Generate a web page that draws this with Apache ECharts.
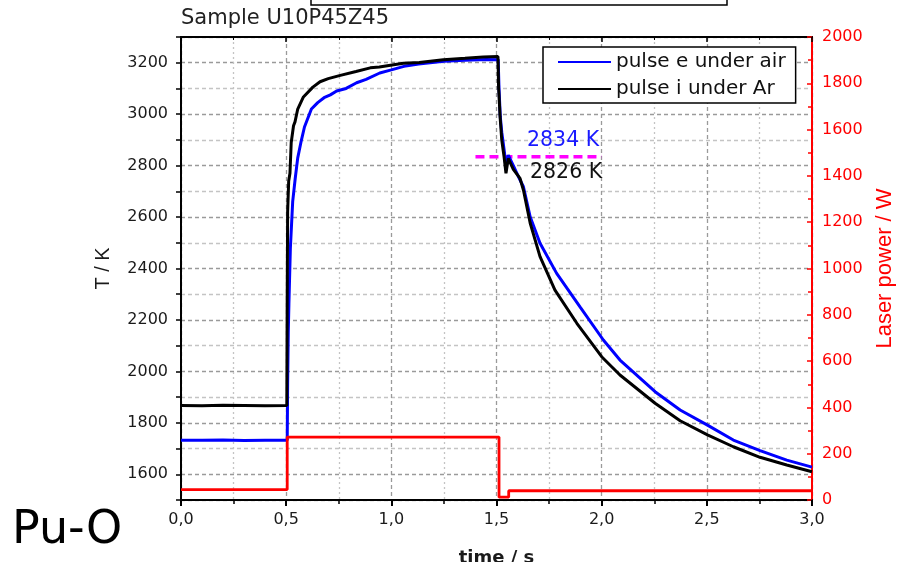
<!DOCTYPE html>
<html><head><meta charset="utf-8">
<script src="https://cdn.jsdelivr.net/npm/echarts@6/dist/echarts.min.js"></script>
<style>html,body{margin:0;padding:0;background:#fff}#c{width:898px;height:562px}</style>
</head><body><div id="c"></div>
<script>
// pulse e under air (blue)
const blueTime = [0, 0.1, 0.2, 0.3, 0.4, 0.505, 0.507, 0.510, 0.513, 0.520, 0.531, 0.543, 0.555, 0.570, 0.587, 0.620, 0.650, 0.680, 0.710, 0.740, 0.785, 0.835, 0.880, 0.945, 1.000, 1.060, 1.130, 1.250, 1.350, 1.450, 1.508, 1.512, 1.518, 1.525, 1.538, 1.545, 1.556, 1.580, 1.612, 1.628, 1.660, 1.707, 1.786, 1.897, 2.008, 2.087, 2.254, 2.373, 2.503, 2.626, 2.753, 2.880, 3.000];
const blueTemp = [1732, 1732, 1733, 1731, 1732, 1732, 1950, 2150, 2260, 2480, 2660, 2750, 2830, 2890, 2950, 3020, 3045, 3064, 3075, 3090, 3100, 3122, 3135, 3160, 3172, 3186, 3195, 3206, 3210, 3213, 3212, 3100, 2990, 2930, 2850, 2790, 2841, 2800, 2744, 2718, 2601, 2498, 2381, 2251, 2122, 2044, 1921, 1850, 1791, 1733, 1692, 1655, 1628];
// pulse i under Ar (black)
const blackTime = [0, 0.1, 0.2, 0.3, 0.4, 0.503, 0.505, 0.507, 0.512, 0.518, 0.524, 0.535, 0.542, 0.555, 0.582, 0.627, 0.661, 0.700, 0.753, 0.832, 0.900, 0.943, 1.057, 1.133, 1.247, 1.350, 1.437, 1.507, 1.510, 1.514, 1.517, 1.525, 1.536, 1.545, 1.556, 1.580, 1.612, 1.628, 1.660, 1.707, 1.778, 1.882, 2.000, 2.087, 2.254, 2.373, 2.503, 2.626, 2.753, 2.880, 3.000];
const blackTemp = [1867, 1866, 1868, 1867, 1866, 1867, 2300, 2620, 2740, 2770, 2890, 2955, 2970, 3020, 3067, 3105, 3126, 3138, 3150, 3166, 3180, 3183, 3198, 3201, 3212, 3217, 3222, 3224, 3100, 3040, 2990, 2899, 2834, 2770, 2828, 2785, 2750, 2705, 2577, 2446, 2316, 2187, 2057, 1986, 1876, 1808, 1753, 1707, 1666, 1636, 1610];
// laser power (red, right axis)
const laserTime = [0, 0.505, 0.505, 1.512, 1.512, 1.558, 1.558, 3.0];
const laserPower = [45, 45, 272, 272, 12, 12, 40, 40];
// 2834 K marker line
const markTime = [1.40, 2.0];
const markTemp = [2834, 2834];
const legendNames = ['pulse e under air', 'pulse i under Ar'];
const annotBlue = '2834 K';
const annotBlack = '2826 K';
const titleText = 'Sample U10P45Z45';
const sideText = 'Pu-O';

const F = 'DejaVu Sans';
const pair = (xs, ys) => xs.map((x, i) => [x, ys[i]]);
const chart = echarts.init(document.getElementById('c'), null, {renderer: 'canvas'});
const option = {
  animation: false,
  backgroundColor: '#fff',
  grid: {left: 181, right: 86, top: 37, bottom: 62, show: true, borderColor: '#000', borderWidth: 2, backgroundColor: 'transparent', containLabel: false, outerBoundsMode: 'none'},
  xAxis: [{
    type: 'value', min: 0, max: 3, interval: 0.5, position: 'bottom',
    axisLine: {show: true, onZero: false, lineStyle: {color: '#000', width: 2}},
    axisTick: {show: true, length: 6, lineStyle: {color: '#000', width: 2}},
    minorTick: {show: true, splitNumber: 2, length: 4, lineStyle: {color: '#000', width: 1.5}},
    axisLabel: {formatter: v => v.toFixed(1).replace('.', ','), color: '#1a1a1a', fontFamily: F, fontSize: 16, margin: 12},
    splitLine: {show: true, lineStyle: {color: '#9a9a9a', type: [4, 3], width: 1.3}},
    minorSplitLine: {show: true, lineStyle: {color: '#c4c4c4', type: [2, 3], width: 1.3}},
    name: 'time / s', nameLocation: 'middle', nameGap: 49,
    nameTextStyle: {fontFamily: F, fontSize: 18, color: '#1a1a1a', fontWeight: 'bold'}
  }, {
    type: 'value', min: 0, max: 3, interval: 0.5, position: 'top',
    axisLine: {show: true, onZero: false, lineStyle: {color: '#000', width: 2}},
    axisTick: {show: true, inside: true, length: 5, lineStyle: {color: '#000', width: 1.5}},
    minorTick: {show: true, splitNumber: 2, length: 3, lineStyle: {color: '#000', width: 1}},
    axisLabel: {show: false}, splitLine: {show: false}
  }],
  yAxis: [{
    type: 'value', min: 1500, max: 3300, interval: 100, position: 'left',
    axisLine: {show: true, onZero: false, lineStyle: {color: '#000', width: 2}},
    axisTick: {show: true, length: 5, lineStyle: {color: '#000', width: 1.5}},
    axisLabel: {formatter: v => (v % 200 === 0 ? String(v) : ''), color: '#1a1a1a', fontFamily: F, fontSize: 16, margin: 13},
    splitLine: {show: true, lineStyle: {color: ['#c4c4c4', '#9a9a9a'], type: [4, 3], width: 1.3}},
    name: 'T / K', nameLocation: 'middle', nameGap: 68,
    nameTextStyle: {fontFamily: 'Liberation Sans', fontSize: 20, color: '#1a1a1a'}
  }, {
    type: 'value', min: 0, max: 2000, interval: 200, position: 'right',
    axisLine: {show: true, onZero: false, lineStyle: {color: '#ff0000', width: 2}},
    axisTick: {show: true, inside: true, length: 5, lineStyle: {color: '#ff0000', width: 1.5}},
    minorTick: {show: true, splitNumber: 2, length: 4, lineStyle: {color: '#ff0000', width: 1.5}},
    axisLabel: {formatter: v => String(v), color: '#ff0000', fontFamily: F, fontSize: 16, margin: 10},
    splitLine: {show: false},
    name: 'Laser power / W', nameLocation: 'middle', nameGap: 57,
    nameTextStyle: {fontFamily: 'Liberation Sans', fontSize: 22, color: '#ff0000'}
  }],
  legend: {
    data: legendNames, left: 543, top: 47, orient: 'vertical', icon: 'rect',
    itemWidth: 53, itemHeight: 2, itemGap: 5, padding: [4, 10, 3, 15],
    borderColor: '#000', borderWidth: 1.5, backgroundColor: '#fff',
    textStyle: {fontFamily: F, fontSize: 20, color: '#111', lineHeight: 22}
  },
  series: [
    {name: legendNames[0], type: 'line', xAxisIndex: 0, yAxisIndex: 0, data: pair(blueTime, blueTemp),
     symbol: 'none', lineStyle: {color: '#0000ff', width: 3}, itemStyle: {color: '#0000ff'}, z: 3},
    {name: legendNames[1], type: 'line', xAxisIndex: 0, yAxisIndex: 0, data: pair(blackTime, blackTemp),
     symbol: 'none', lineStyle: {color: '#000', width: 3}, itemStyle: {color: '#000'}, z: 4},
    {name: 'laser', type: 'line', xAxisIndex: 0, yAxisIndex: 1, data: pair(laserTime, laserPower),
     symbol: 'none', lineStyle: {color: '#ff0000', width: 2.8}, itemStyle: {color: '#ff0000'}, z: 3},
    {name: 'mark', type: 'line', xAxisIndex: 0, yAxisIndex: 0, data: pair(markTime, markTemp),
     symbol: 'none', lineStyle: {color: '#ff00ff', width: 3.5, type: [9, 5]}, itemStyle: {color: '#ff00ff'}, z: 2}
  ],
  graphic: [
    {type: 'rect', shape: {x: 311, y: -10, width: 416, height: 15}, style: {fill: '#fff', stroke: '#000', lineWidth: 1.5}, z: 10},
    {type: 'text', x: 181, y: 18.5, style: {text: titleText, font: '21px "DejaVu Sans"', fill: '#222', textVerticalAlign: 'middle'}, z: 11},
    {type: 'text', x: 12, y: 531, style: {text: sideText, font: '46px "DejaVu Sans"', fill: '#000', textVerticalAlign: 'middle'}, z: 10},
    {type: 'text', x: 527, y: 141, style: {text: annotBlue, font: '20.5px "DejaVu Sans"', fill: '#1a1aff', textVerticalAlign: 'middle'}, z: 10},
    {type: 'text', x: 530, y: 173, style: {text: annotBlack, font: '20.5px "DejaVu Sans"', fill: '#111', textVerticalAlign: 'middle'}, z: 10}
  ]
};
chart.setOption(option);
</script>
</body></html>
